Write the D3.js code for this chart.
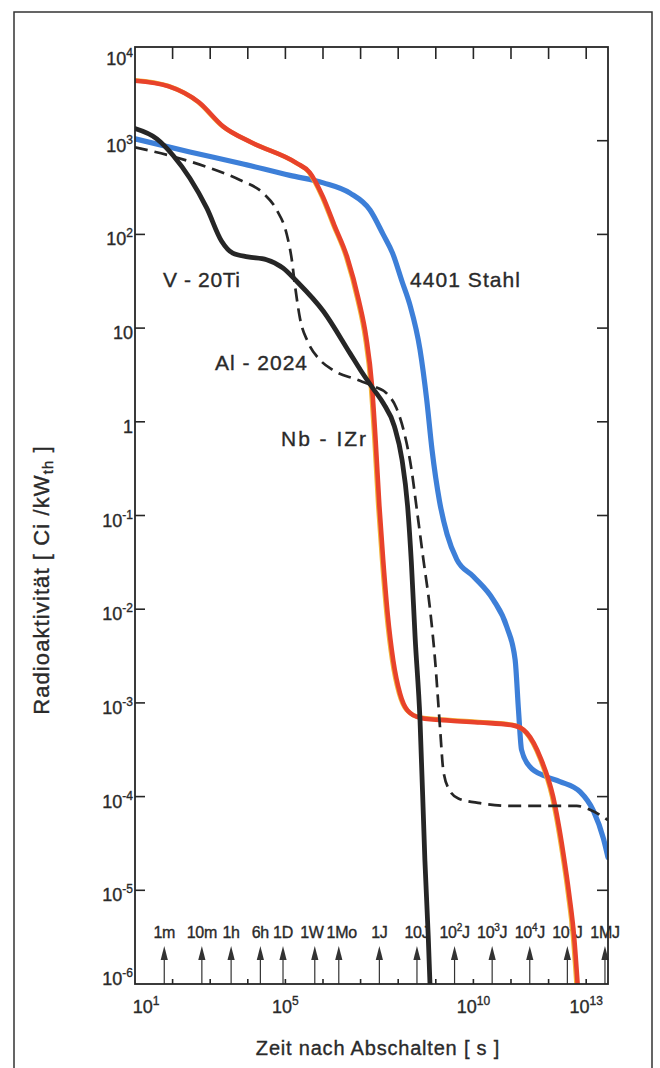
<!DOCTYPE html>
<html><head><meta charset="utf-8">
<script src="https://cdn.jsdelivr.net/npm/d3@7"></script>
<style>
body{margin:0;background:#fff;}
svg{display:block;}
text{font-family:"Liberation Sans",Arial,sans-serif;fill:#2a2a2a;stroke:#2a2a2a;stroke-width:0.35px;}
</style></head><body>
<script>
// ---- data (log10 of time in s, log10 of activity in Ci/kWth) ----
const yTickExps = [4,3,2,1,0,-1,-2,-3,-4,-5,-6];
const yTickLabels = ["10^4","10^3","10^2","10","1","10^-1","10^-2","10^-3","10^-4","10^-5","10^-6"];
const xTickExps = [2,3,4,5,6,7,8,9,10,11,12,13];
const xLabelExps = [1,5,10,13];
const xTickLabels = ["10^1","10^5","10^10","10^13"];
const markerLabels = ["1m","10m","1h","6h","1D","1W","1Mo","1J","10J","10^2J","10^3J","10^4J","10^5J","1MJ"];
const markerSeconds = [60,600,3600,21600,86400,604800,2.63e6,3.156e7,3.156e8,3.156e9,3.156e10,3.156e11,3.156e12,3.156e13];

const stahl4401 = [[1.0,3.02],[2.46,2.88],[3.79,2.76],[5.12,2.63],[6.01,2.55],[6.72,2.44],[7.25,2.26],[7.6,2.0],[7.85,1.8],[8.1,1.5],[8.31,1.25],[8.58,0.77],[8.76,0.23],[8.9,-0.3],[9.1,-0.85],[9.3,-1.2],[9.56,-1.47],[10.0,-1.65],[10.53,-1.9],[10.89,-2.19],[11.11,-2.54],[11.2,-3.08],[11.28,-3.5],[11.5,-3.68],[11.9,-3.78],[12.3,-3.84],[12.84,-3.95],[13.19,-4.15],[13.46,-4.45],[13.58,-4.65]];
const nb1zr = [[1.0,3.64],[1.9,3.58],[2.7,3.41],[3.35,3.15],[4.1,2.98],[5.3,2.76],[5.65,2.66],[6.0,2.4],[6.3,2.1],[6.65,1.75],[6.95,1.3],[7.15,0.9],[7.3,0.4],[7.4,-0.2],[7.5,-0.9],[7.6,-1.47],[7.72,-2.05],[7.87,-2.55],[8.05,-2.9],[8.25,-3.08],[8.6,-3.16],[9.4,-3.19],[10.18,-3.21],[11.06,-3.24],[11.42,-3.32],[11.8,-3.6],[12.12,-4.0],[12.39,-4.6],[12.55,-5.05],[12.68,-5.5],[12.78,-6.05]];
const v20ti = [[1.0,3.13],[1.58,3.02],[2.02,2.84],[2.46,2.6],[2.91,2.28],[3.3,1.93],[3.6,1.8],[4.0,1.76],[4.5,1.73],[4.94,1.64],[5.3,1.5],[6.01,1.18],[6.72,0.73],[7.0,0.55],[7.34,0.35],[7.6,0.2],[7.9,-0.05],[8.1,-0.4],[8.25,-0.9],[8.35,-1.5],[8.45,-2.3],[8.58,-3.18],[8.71,-4.68],[8.8,-5.5],[8.85,-6.05]];
const al2024 = [[1.0,2.93],[2.02,2.83],[2.91,2.72],[3.79,2.58],[4.41,2.44],[4.77,2.26],[5.03,2.01],[5.17,1.73],[5.26,1.44],[5.39,1.1],[5.6,0.85],[5.92,0.66],[6.27,0.55],[6.9,0.45],[7.34,0.38],[7.7,0.3],[7.95,0.15],[8.15,-0.1],[8.35,-0.5],[8.5,-0.95],[8.67,-1.47],[8.85,-2.01],[8.98,-2.54],[9.11,-3.25],[9.2,-3.72],[9.35,-3.92],[9.6,-4.02],[10.18,-4.07],[11.06,-4.1],[11.95,-4.1],[12.75,-4.1],[13.1,-4.14],[13.58,-4.25]];
const seriesNames = ["4401 Stahl","Nb - IZr","V - 20Ti","Al - 2024"];

// ---- layout ----
const W = 660, H = 1068;
const L = 135, R = 608, T = 47, B = 984;
const svg = d3.select("body").append("svg").attr("width",W).attr("height",H);
const x = d3.scaleLog().domain([1e1, Math.pow(10,13.58)]).range([L,R]);
const y = d3.scaleLog().domain([1e-6,1e4]).range([B,T]);
const ink = "#262626";

// outer frame
svg.append("path").attr("d",`M14,${H}V12H652V${H}`).attr("fill","none").attr("stroke","#333").attr("stroke-width",1.5);

function supText(sel, str, supFs, rise){
  const m = str.match(/^(.*?)\^(-?\d+)(.*)$/);
  if(!m){ sel.append("tspan").text(str); return; }
  sel.append("tspan").text(m[1]);
  sel.append("tspan").attr("font-size",supFs).attr("dy",-rise).text(m[2]);
  if(m[3]) sel.append("tspan").attr("dy",rise).text(m[3]);
}

svg.append("clipPath").attr("id","plot").append("rect").attr("x",L).attr("y",T).attr("width",R-L).attr("height",B-T);

// ticks
const tk = svg.append("g").attr("stroke",ink).attr("stroke-width",1.6);
xTickExps.forEach(e=>{
  const px = x(Math.pow(10,e));
  tk.append("line").attr("x1",px).attr("x2",px).attr("y1",T).attr("y2",T+12);
  tk.append("line").attr("x1",px).attr("x2",px).attr("y1",B).attr("y2",B-5);
});
yTickExps.forEach(e=>{
  if(e===4||e===-6) return;
  const py = y(Math.pow(10,e));
  tk.append("line").attr("x1",L).attr("x2",L+10).attr("y1",py).attr("y2",py);
  tk.append("line").attr("x1",R).attr("x2",R-11).attr("y1",py).attr("y2",py);
});

// y labels
yTickExps.forEach((e,i)=>{
  const py = y(Math.pow(10,e));
  const off = e===4 ? 18 : (e===-6 ? 1 : 11);
  const t = svg.append("text").attr("x",133).attr("y",py+off).attr("text-anchor","end").attr("font-size",18);
  supText(t, yTickLabels[i], 12, 8);
});
// x labels
xLabelExps.forEach((e,i)=>{
  const px = x(Math.pow(10,e));
  const t = svg.append("text").attr("x", e===1 ? px+11 : px).attr("y",1013).attr("text-anchor","middle").attr("font-size",18);
  supText(t, xTickLabels[i], 12, 8);
});

// axis titles
svg.append("text").attr("x",378).attr("y",1055).attr("text-anchor","middle").attr("font-size",20).attr("letter-spacing",0.8)
  .text("Zeit nach Abschalten   [ s ]");
const yt = svg.append("text").attr("transform","translate(49,580) rotate(-90)").attr("text-anchor","middle").attr("font-size",22).attr("letter-spacing",1.1).attr("stroke-width",0.45);
yt.append("tspan").text("Radioaktivität  [ Ci /kW");
yt.append("tspan").attr("font-size",15).attr("dy",4).text("th");
yt.append("tspan").attr("dy",-4).text(" ]");

// marker arrows
const mk = markerSeconds.map((s,i)=>({px:x(s), label:markerLabels[i]}));
mk.forEach(d=>{
  svg.append("line").attr("x1",d.px).attr("x2",d.px).attr("y1",B).attr("y2",955).attr("stroke","#333").attr("stroke-width",1.2);
  svg.append("path").attr("d",`M${d.px},946L${d.px-3.6},960L${d.px+3.6},960Z`).attr("fill","#333");
  d.t = svg.append("text").attr("x",d.px).attr("y",938).attr("text-anchor","middle").attr("font-size",16).attr("letter-spacing",-0.3);
  supText(d.t, d.label, 10, 7);
  d.w = d.t.node().getComputedTextLength();
  d.cx = d.px;
});
for(let it=0; it<30; it++){
  for(let i=0;i<mk.length-1;i++){
    const a=mk[i], b=mk[i+1];
    const gap = (b.cx-b.w/2)-(a.cx+a.w/2);
    if(gap<3){ const s=(3-gap)/2; a.cx-=s; b.cx+=s; }
  }
}
mk.forEach(d=>d.t.attr("x",d.cx));

// curves
const line = d3.line().x(d=>x(Math.pow(10,d[0]))).y(d=>y(Math.pow(10,d[1]))).curve(d3.curveMonotoneX);
const cg = svg.append("g").attr("clip-path","url(#plot)").attr("fill","none").attr("stroke-linejoin","round").attr("stroke-linecap","round");
cg.append("path").attr("d",line(stahl4401)).attr("stroke","#3d7fd8").attr("stroke-width",5.2);
cg.append("path").attr("d",line(nb1zr)).attr("stroke","#f2b43a").attr("stroke-width",4.5).attr("transform","translate(-1.2,-0.6)");
cg.append("path").attr("d",line(nb1zr)).attr("stroke","#e8422b").attr("stroke-width",4.6);
cg.append("path").attr("d",line(al2024)).attr("stroke",ink).attr("stroke-width",2.7).attr("stroke-dasharray","13,7").attr("stroke-linecap","butt");
cg.append("path").attr("d",line(v20ti)).attr("stroke",ink).attr("stroke-width",4.8);

// plot frame
svg.append("rect").attr("x",L).attr("y",T).attr("width",R-L).attr("height",B-T).attr("fill","none").attr("stroke",ink).attr("stroke-width",1.8);

// series labels
const lab = [[seriesNames[0],410,287,110],[seriesNames[2],163,287,77],[seriesNames[3],215,370,92],[seriesNames[1],281,446,85]];
lab.forEach(d=>{
  svg.append("text").attr("x",d[1]).attr("y",d[2]).attr("font-size",21).attr("stroke-width",0.75)
    .attr("textLength",d[3]).attr("lengthAdjust","spacing").text(d[0]);
});
</script>
</body></html>
